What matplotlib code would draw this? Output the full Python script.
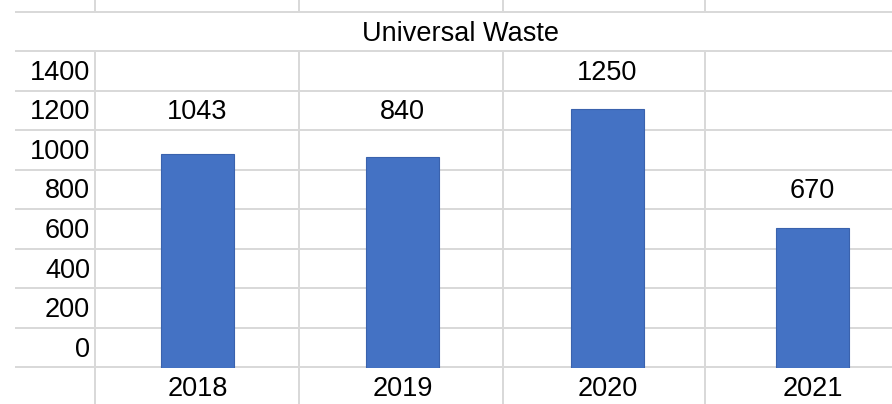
import matplotlib
matplotlib.use('Agg')
import matplotlib.pyplot as plt
from matplotlib import font_manager

# chart data
years = ['2018', '2019', '2020', '2021']
bar_values = [1033, 1018, 1250, 676]          # bar heights as drawn
label_texts = ['1043', '840', '1250', '670']  # numbers typed above the bars
axis_labels = [1400, 1200, 1000, 800, 600, 400, 200, 0]
title = 'Universal Waste'

W, H = 892, 404
installed = {f.name for f in font_manager.fontManager.ttflist}
if 'Liberation Sans Narrow' in installed:
    plt.rcParams['font.family'] = ['Liberation Sans Narrow', 'DejaVu Sans']
    FS = 22
else:
    plt.rcParams['font.family'] = ['Liberation Sans', 'DejaVu Sans']
    FS = 19.5
GRID = '#d9d9d9'
BLUE = '#4472C4'

fig = plt.figure(figsize=(W / 100, H / 100), dpi=100)

# spreadsheet cells behind the chart, in pixel coordinates
sheet = fig.add_axes([0, 0, 1, 1])
sheet.set_xlim(0, W)
sheet.set_ylim(H, 0)
sheet.axis('off')

col_edges = [95, 299, 503, 705]
row_edges = [11.5 + 39.55 * i for i in range(10)]
lw = 2 * 72 / 100
for y in row_edges:
    sheet.plot([15, W], [y, y], color=GRID, lw=lw, solid_capstyle='butt')
for x in col_edges:
    sheet.plot([x, x], [0, row_edges[0]], color=GRID, lw=lw, solid_capstyle='butt')
    sheet.plot([x, x], [row_edges[1], H], color=GRID, lw=lw, solid_capstyle='butt')

sheet.text(460, 34, title, fontsize=FS, ha='center', va='center')
for i, lab in enumerate(axis_labels):
    yc = (row_edges[i + 1] + row_edges[i + 2]) / 2 + 2
    sheet.text(90, yc, str(lab), fontsize=FS, ha='right', va='center')

# the bar chart itself
px_per_unit = 259 / 1250
base_px, top_px = 368, 51
ax_h = base_px - top_px
ax = fig.add_axes([95 / W, (H - base_px) / H, (W - 95) / W, ax_h / H])
ax.patch.set_alpha(0)
ax.set_xlim(-0.5, -0.5 + (W - 95) / 205)
ax.set_ylim(0, ax_h / px_per_unit)
ax.axis('off')

xs = list(range(len(years)))
bars = ax.bar(xs, bar_values, width=73 / 205, color=BLUE,
              edgecolor='#3a62ad', linewidth=0.8)

# value labels sit in the sheet cell just above the one holding the bar top
for x, v, t in zip(xs, bar_values, label_texts):
    top = H - ax.transData.transform((x, v))[1]
    r = max(i for i, e in enumerate(row_edges) if e <= top)
    yc = (row_edges[r - 1] + row_edges[r]) / 2 + 2
    sheet.text(ax.transData.transform((x, 0))[0], yc, t,
               ha='center', va='center', fontsize=FS)

for x, yr in zip(xs, years):
    ax.text(x, -(389 - base_px) / ax_h, yr, transform=ax.get_xaxis_transform(),
            ha='center', va='center', fontsize=FS, clip_on=False)

fig.savefig('out.png', dpi=100)
